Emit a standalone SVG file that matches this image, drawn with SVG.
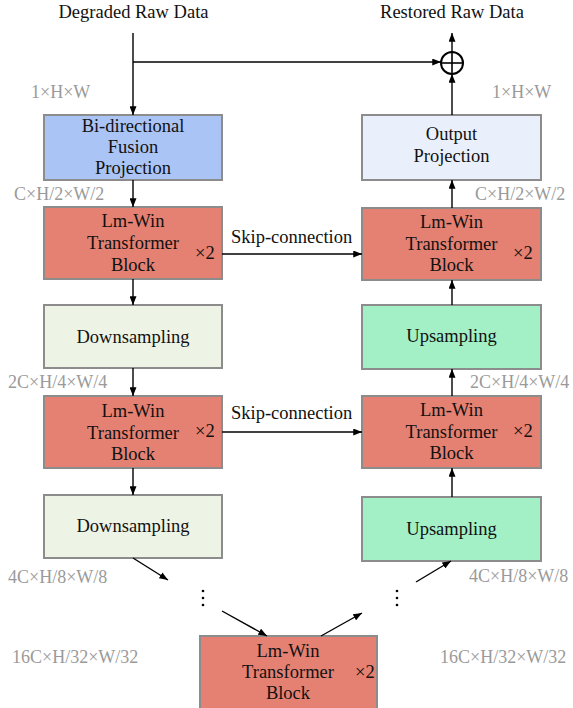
<svg xmlns="http://www.w3.org/2000/svg" width="573" height="708" viewBox="0 0 573 708">
<defs>
<marker id="ah" viewBox="0 0 10 8" refX="10" refY="4" markerWidth="9" markerHeight="7" markerUnits="userSpaceOnUse" orient="auto">
<path d="M0,0 L10,4 L0,8 z" fill="#000"/>
</marker>
<style>
text{font-family:"Liberation Serif","Times New Roman",serif;font-size:18.5px;fill:#111;}
.c{text-anchor:middle;}
.g{fill:#9a9a9a;font-size:18px;}
.box{stroke:#8c8c8c;stroke-width:2;}
.lm{fill:#e58172;}
.bi{fill:#abc4f6;}
.op{fill:#eaf0fb;}
.dn{fill:#eef4e5;}
.up{fill:#a3f0c6;}
.cn{stroke:#000;stroke-width:1.4;fill:none;}
.cna{stroke:#000;stroke-width:1.4;fill:none;marker-end:url(#ah);}
</style>
</defs>
<rect width="573" height="708" fill="#fff"/>

<text class="c" x="133.5" y="18">Degraded Raw Data</text>
<text class="c" x="452" y="18">Restored Raw Data</text>

<g id="labels">
<text class="g" x="31" y="98">1×H×W</text>
<text class="g" x="14" y="200">C×H/2×W/2</text>
<text class="g" x="8" y="388">2C×H/4×W/4</text>
<text class="g" x="8" y="583">4C×H/8×W/8</text>
<text class="g" x="12" y="663">16C×H/32×W/32</text>
<text class="g" x="492" y="98">1×H×W</text>
<text class="g" x="475" y="200">C×H/2×W/2</text>
<text class="g" x="470" y="388">2C×H/4×W/4</text>
<text class="g" x="469" y="582">4C×H/8×W/8</text>
<text class="g" x="440" y="663">16C×H/32×W/32</text>
</g>

<g id="bfp">
<rect class="box bi" x="44" y="115" width="178" height="65"/>
<text class="c" x="133" y="132">Bi-directional</text>
<text class="c" x="133" y="153">Fusion</text>
<text class="c" x="133" y="174">Projection</text>
</g>
<g id="enc1">
<rect class="box lm" x="44" y="207" width="178" height="72"/>
<text class="c" x="133" y="227">Lm-Win</text>
<text class="c" x="133" y="249">Transformer</text>
<text class="c" x="133" y="271">Block</text>
<text x="195" y="259">×2</text>
</g>
<g id="down1">
<rect class="box dn" x="44" y="305" width="178" height="63"/>
<text class="c" x="133" y="343">Downsampling</text>
</g>
<g id="enc2">
<rect class="box lm" x="44" y="396" width="178" height="72"/>
<text class="c" x="133" y="417">Lm-Win</text>
<text class="c" x="133" y="439">Transformer</text>
<text class="c" x="133" y="460">Block</text>
<text x="195" y="437">×2</text>
</g>
<g id="down2">
<rect class="box dn" x="44" y="495" width="178" height="63"/>
<text class="c" x="133" y="532">Downsampling</text>
</g>

<g id="outp">
<rect class="box op" x="362" y="115" width="179" height="65"/>
<text class="c" x="451.5" y="140">Output</text>
<text class="c" x="451.5" y="162">Projection</text>
</g>
<g id="dec1">
<rect class="box lm" x="362" y="208" width="179" height="72"/>
<text class="c" x="451.5" y="228">Lm-Win</text>
<text class="c" x="451.5" y="250">Transformer</text>
<text class="c" x="451.5" y="271">Block</text>
<text x="513" y="259">×2</text>
</g>
<g id="up1">
<rect class="box up" x="362" y="305" width="179" height="64"/>
<text class="c" x="451.5" y="342">Upsampling</text>
</g>
<g id="dec2">
<rect class="box lm" x="362" y="396" width="179" height="72"/>
<text class="c" x="451.5" y="416">Lm-Win</text>
<text class="c" x="451.5" y="438">Transformer</text>
<text class="c" x="451.5" y="459">Block</text>
<text x="513" y="437">×2</text>
</g>
<g id="up2">
<rect class="box up" x="362" y="497" width="179" height="64"/>
<text class="c" x="451.5" y="535">Upsampling</text>
</g>

<g id="bottleneck">
<rect class="box lm" x="200" y="636" width="177" height="74"/>
<text class="c" x="288" y="657">Lm-Win</text>
<text class="c" x="288" y="678">Transformer</text>
<text class="c" x="288" y="699">Block</text>
<text x="355" y="678">×2</text>
</g>

<g id="add">
<circle cx="452" cy="63" r="11" fill="none" stroke="#000" stroke-width="2"/>
<line x1="441" y1="63" x2="463" y2="63" stroke="#000" stroke-width="1.6"/>
<line x1="452" y1="52" x2="452" y2="74" stroke="#000" stroke-width="1.6"/>
</g>

<g id="dots">
<circle cx="203" cy="591" r="1.3" fill="#000"/>
<circle cx="203" cy="598" r="1.3" fill="#000"/>
<circle cx="203" cy="605" r="1.3" fill="#000"/>
<circle cx="397" cy="591" r="1.3" fill="#000"/>
<circle cx="397" cy="598" r="1.3" fill="#000"/>
<circle cx="397" cy="605" r="1.3" fill="#000"/>
</g>

<g id="connectors">
<line class="cna" x1="133" y1="33" x2="133" y2="115"/>
<line class="cna" x1="133" y1="62" x2="441" y2="62"/>
<line class="cna" x1="133" y1="180" x2="133" y2="207"/>
<line class="cna" x1="133" y1="279" x2="133" y2="305"/>
<line class="cna" x1="133" y1="368" x2="133" y2="396"/>
<line class="cna" x1="133" y1="468" x2="133" y2="495"/>
<line class="cna" x1="133" y1="558" x2="168" y2="580"/>
<line class="cna" x1="222" y1="611" x2="267" y2="636"/>
<line class="cna" x1="321" y1="636" x2="362" y2="613"/>
<line class="cna" x1="416" y1="582" x2="451" y2="561"/>
<line class="cna" x1="452" y1="497" x2="452" y2="468"/>
<line class="cna" x1="452" y1="396" x2="452" y2="369"/>
<line class="cna" x1="452" y1="305" x2="452" y2="280"/>
<line class="cna" x1="452" y1="208" x2="452" y2="180"/>
<line class="cna" x1="452" y1="115" x2="452" y2="74"/>
<line class="cna" x1="452" y1="52" x2="452" y2="33"/>
<line class="cna" x1="222" y1="254" x2="362" y2="254"/>
<line class="cna" x1="222" y1="432" x2="362" y2="432"/>
<text x="231" y="243">Skip-connection</text>
<text x="231" y="419">Skip-connection</text>
</g>
</svg>
